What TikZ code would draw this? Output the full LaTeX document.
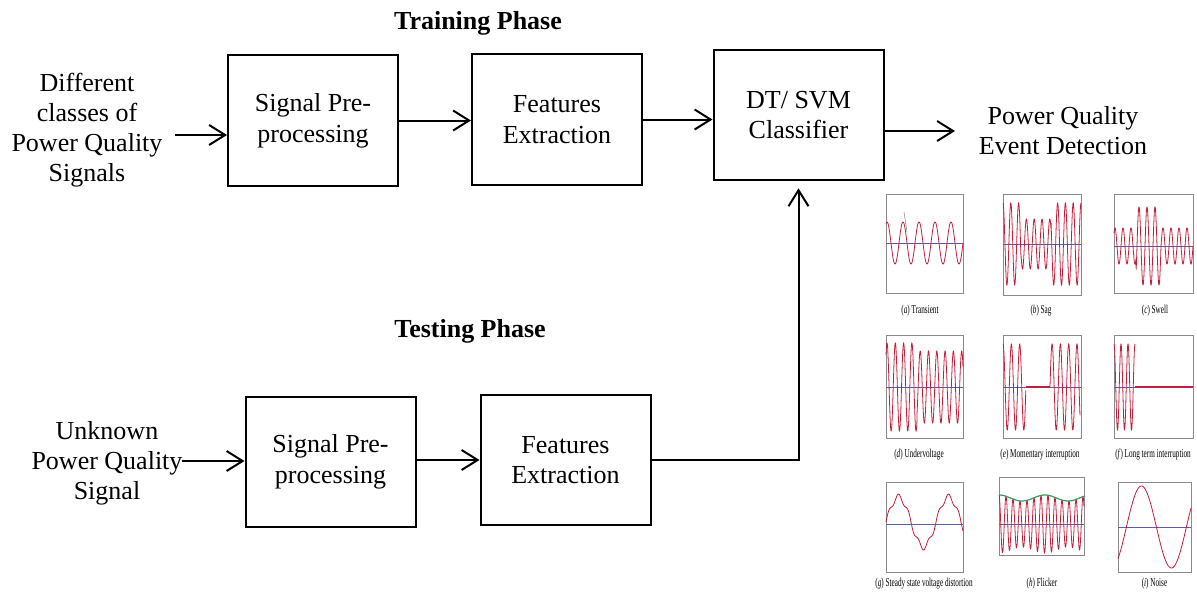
\documentclass[tikz,border=0pt]{standalone}
\usepackage{fontspec}
\setmainfont{Liberation Serif}
\usetikzlibrary{arrows.meta,calc}
\definecolor{sigred}{HTML}{C41E3A}
\definecolor{axblue}{HTML}{5B5EA6}
\definecolor{frgray}{HTML}{8A8A8A}
\definecolor{envgreen}{HTML}{3A9A5B}
\begin{document}
\begin{tikzpicture}[x=0.75pt,y=-0.75pt,
  box/.style={draw,line width=1.5pt,minimum width=127.5pt,minimum height=98pt,inner sep=0pt,align=center,font=\fontsize{19.5pt}{23pt}\selectfont},
  lbl/.style={align=center,inner sep=0pt,font=\fontsize{19.5pt}{22.5pt}\selectfont},
  phase/.style={inner sep=0pt,font=\fontsize{19.5pt}{23pt}\selectfont\bfseries},
  conn/.style={line width=1.5pt,-{Straight Barb[length=12pt,width=15pt]}},
  frame/.style={draw=frgray,line width=0.7pt},
  axisl/.style={axblue,line width=0.7pt},
  sig/.style={sigred,line width=0.6pt},
  flat/.style={sigred,line width=0.9pt},
  env/.style={envgreen,line width=0.9pt},
  plbl/.style={inner sep=0pt,font=\fontsize{9pt}{10pt}\selectfont}]
\useasboundingbox (0,0) rectangle (1197,594);

% ---- phase titles
\node[phase] (trainT) at (478,23) {Training Phase};
\node[phase] (testT) at (470,331) {Testing Phase};

% ---- training row
\node[lbl] (in1txt) at (87,130) {Different\\classes of\\Power Quality\\Signals};
\node[box] (sp1) at (313,120.5) {Signal Pre-\\processing};
\node[box] (fe1) at (557,119.5) {Features\\Extraction};
\node[box] (dt) at (798.5,115) {DT/ SVM\\Classifier};
\node[lbl] (outtxt) at (1063,131) {Power Quality\\Event Detection};

\coordinate (in1) at (175,135);
\coordinate (o1) at (955,131);
\draw[conn] (in1) -- (sp1.west |- in1);
\draw[conn] (sp1.east) -- (sp1.east -| fe1.west);
\draw[conn] (fe1.east) -- (fe1.east -| dt.west);
\draw[conn] (dt.east |- o1) -- (o1);

% ---- testing row
\node[lbl] (in2txt) at (107,463) {Unknown\\Power Quality\\Signal};
\node[box] (sp2) at (330.5,462) {Signal Pre-\\processing};
\node[box] (fe2) at (565.5,460) {Features\\Extraction};
\coordinate (in2) at (182,461);
\coordinate (upend) at ($(dt.south)+(0,7)$);
\draw[conn] (in2) -- (sp2.west |- in2);
\draw[conn] (sp2.east |- fe2.west) -- (fe2.west);
\draw[conn] (fe2.east) -| (upend);

% ---- waveform panel
% (a) Transient
\draw[frame] (886,194) rectangle (963,293);
\draw[axisl] (886,243) -- (963,243);
\draw[sig] plot[domain=0:77,samples=200] ({886+\x},{243-21*cos(((\x-1)/16)*360)});
\draw[frgray,line width=0.4pt] (904,212) -- (907,232);
\node[plbl] (la) at (920,311) {\scalebox{0.6}[1]{(\textit{a}) Transient}};

% (b) Sag
\draw[frame] (1003,194) rectangle (1081,295);
\draw[axisl] (1003,244) -- (1081,244);
\draw[sig] plot[domain=0:78,samples=400] ({1003+\x},{244-ifthenelse(or(\x<18,\x>48),41,25)*cos((\x/7.8)*360)});
\node[plbl] (lb) at (1041,311) {\scalebox{0.6}[1]{(\textit{b}) Sag}};

% (c) Swell
\draw[frame] (1114,194) rectangle (1193,293);
\draw[axisl] (1114,246) -- (1193,246);
\draw[sig] plot[domain=0:79,samples=400] ({1114+\x},{246-ifthenelse(and(\x>22,\x<47),39,18)*cos(((\x-1)/8)*360)});
\node[plbl] (lc) at (1155,311) {\scalebox{0.6}[1]{(\textit{c}) Swell}};

% (d) Undervoltage
\draw[frame] (886,335) rectangle (963,438);
\draw[axisl] (886,387) -- (963,387);
\draw[sig] plot[domain=0:77,samples=400] ({886+\x},{387-ifthenelse(\x<31,44,36)*cos(((\x-1)/8.3)*360)});
\node[plbl] (ld) at (919,455) {\scalebox{0.6}[1]{(\textit{d}) Undervoltage}};

% (e) Momentary interruption
\draw[frame] (1003,335) rectangle (1081,438);
\draw[axisl] (1003,387) -- (1081,387);
\draw[sig] plot[domain=0:22.8,samples=200] ({1003+\x},{387-43*sin(((\x+2)/8.3)*360)});
\draw[flat] (1026,387) -- (1050,387);
\draw[sig] plot[domain=47:77,samples=200] ({1003+\x},{387-43*sin(((\x-47)/8.3)*360)});
\node[plbl] (le) at (1040,455) {\scalebox{0.6}[1]{(\textit{e}) Momentary interruption}};

% (f) Long term interruption
\draw[frame] (1114,335) rectangle (1193,438);
\draw[axisl] (1114,387) -- (1193,387);
\draw[sig] plot[domain=0:21,samples=200] ({1114+\x},{387-43*sin(((\x+1.75)/7)*360)});
\draw[flat] (1135,387) -- (1193,387);
\node[plbl] (lf) at (1153,455) {\scalebox{0.6}[1]{(\textit{f}) Long term interruption}};

% (g) Steady state voltage distortion
\draw[frame] (886,482) rectangle (963,572);
\draw[axisl] (886,524) -- (963,524);
\draw[sig] plot[domain=0:77,samples=300] ({886+\x},{522-25*sin((\x/50)*360)-3*sin((\x/10)*360)});
\node[plbl] (lg) at (924,584) {\scalebox{0.6}[1]{(\textit{g}) Steady state voltage distortion}};

% (h) Flicker
\draw[frame] (999,477) rectangle (1084,555);
\draw[axisl] (999,524) -- (1084,524);
\draw[sig] plot[domain=0:85,samples=500] ({999+\x},{524-(26+3*cos((\x/46)*360))*cos((\x/7)*360)});
\draw[env] plot[domain=0:85,samples=80] ({999+\x},{524-(26+3*cos((\x/46)*360))});
\node[plbl] (lh) at (1042,584) {\scalebox{0.6}[1]{(\textit{h}) Flicker}};

% (i) Noise
\draw[frame] (1118,482) rectangle (1191,572);
\draw[axisl] (1118,527) -- (1191,527);
\draw[sig] plot[domain=0:73,samples=200] ({1118+\x},{527-41*sin(((\x-8.4)/60)*360)});
\node[plbl] (li) at (1154.5,584) {\scalebox{0.6}[1]{(\textit{i}) Noise}};
\end{tikzpicture}
\end{document}
